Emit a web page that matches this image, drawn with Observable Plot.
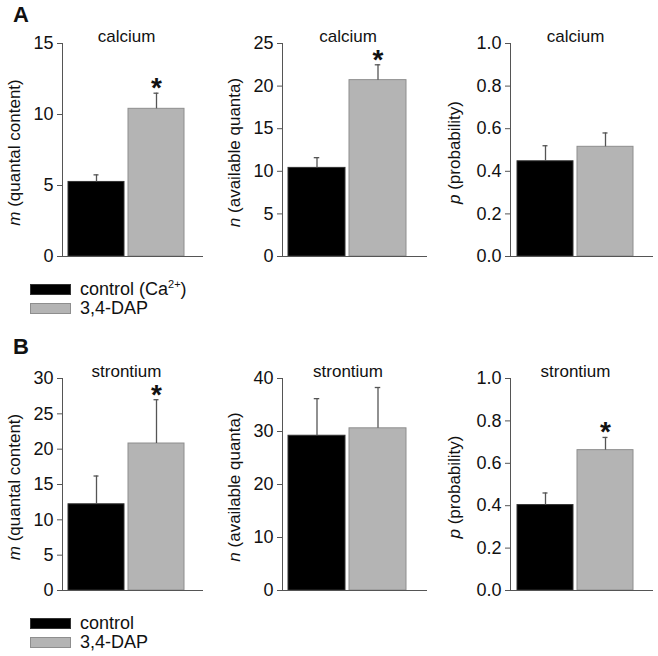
<!DOCTYPE html>
<html>
<head>
<meta charset="utf-8">
<script src="https://cdn.jsdelivr.net/npm/d3@7"></script>
<script src="https://cdn.jsdelivr.net/npm/@observablehq/plot@0.6"></script>
<style>
  html, body { margin: 0; padding: 0; background: #fff; }
  #chart { position: relative; width: 658px; height: 656px; font-family: Arial, "Liberation Sans", sans-serif; color: #111; }
  .panel { position: absolute; }
  .tag { position: absolute; font-weight: bold; font-size: 22px; line-height: 22px; }
  .leg { position: absolute; left: 30px; font-size: 18px; }
  .row { display: flex; align-items: center; height: 18px; }
  .sw { width: 41px; height: 11px; box-sizing: border-box; margin-right: 9px; }
  sup { font-size: 11px; line-height: 0; vertical-align: 7px; }
</style>
</head>
<body>
<div id="chart"></div>
<script>
// ---------------- data ----------------
const groups = ["control", "3,4-DAP"];
const calciumM = [5.25, 10.4];
const calciumMErr = [0.5, 1.1];
const calciumN = [10.4, 20.7];
const calciumNErr = [1.2, 1.8];
const calciumP = [0.447, 0.515];
const calciumPErr = [0.073, 0.065];
const strontiumM = [12.2, 20.8];
const strontiumMErr = [4.0, 6.2];
const strontiumN = [29.2, 30.6];
const strontiumNErr = [7.0, 7.7];
const strontiumP = [0.403, 0.662];
const strontiumPErr = [0.057, 0.06];
const calciumSig = [[false, true], [false, true], [false, false]];
const strontiumSig = [[false, true], [false, false], [false, true]];
const ticksCaM = [0, 5, 10, 15];
const ticksCaN = [0, 5, 10, 15, 20, 25];
const ticksP = [0, 0.2, 0.4, 0.6, 0.8, 1.0];
const ticksSrM = [0, 5, 10, 15, 20, 25, 30];
const ticksSrN = [0, 10, 20, 30, 40];
const labelM = ["m", " (quantal content)"];
const labelN = ["n", " (available quanta)"];
const labelP = ["p", " (probability)"];
const legendA = ["control (Ca", "2+", ")", "3,4-DAP"];
const legendB = ["control", "3,4-DAP"];

// ---------------- layout / style ----------------
const FONT = 'Arial, "Liberation Sans", sans-serif';
const fills = ["#000000", "#b4b4b4"];
const strokes = ["#333333", "#8e8e8e"];
const axisColor = "#555";
const cols = [
  {left: 0, width: 220, axisX: 62, axisEnd: 203, barL: 67, barR: 185},
  {left: 220, width: 220, axisX: 282, axisEnd: 427, barL: 288, barR: 407},
  {left: 440, width: 218, axisX: 510, axisEnd: 653, barL: 516, barR: 634}
];
const rows = [
  {top: 0, height: 270, frameTop: 43, frameBottom: 256},
  {top: 330, height: 270, frameTop: 378, frameBottom: 590}
];

const chart = document.getElementById("chart");

function panel(row, col, values, errs, sig, ticks, title, label, fmt) {
  const R = rows[row], C = cols[col];
  const data = groups.map((g, i) => ({g, v: values[i], e: errs[i], hi: values[i] + errs[i], sig: sig[i], i}));
  const marginLeft = C.axisX - C.left;
  const marginRight = C.left + C.width - C.axisEnd;
  const bw = (C.barR - C.barL) / (2 - 0.065) * (1 - 0.065);
  const frameMid = (C.axisX + C.axisEnd) / 2;
  const barMid = (C.barL + C.barR) / 2;
  const svg = Plot.plot({
    width: C.width,
    height: R.height,
    marginTop: R.frameTop - R.top,
    marginBottom: R.top + R.height - R.frameBottom,
    marginLeft, marginRight,
    style: {fontFamily: FONT, fontSize: "18px", color: "#111", background: "transparent"},
    x: {type: "band", domain: groups, range: [C.barL - C.left, C.barR - C.left], paddingInner: 0.065, paddingOuter: 0, axis: null},
    y: {domain: [0, ticks[ticks.length - 1]]},
    marks: [
      Plot.barY(data, {x: "g", y: "v", fill: d => fills[d.i], stroke: d => strokes[d.i], strokeWidth: 1}),
      Plot.ruleX(data, {x: "g", y1: "v", y2: "hi", stroke: "#555", strokeWidth: 1.3}),
      Plot.tickY(data, {x: "g", y: "hi", stroke: "#555", strokeWidth: 1.3, insetLeft: (bw - 6) / 2, insetRight: (bw - 6) / 2}),
      Plot.text(data.filter(d => d.sig), {x: "g", y: "hi", text: () => "*", fontSize: 28, fontWeight: "bold", lineAnchor: "top", dy: -16, fill: "#111"}),
      Plot.frame({anchor: "left", stroke: axisColor}),
      Plot.ruleY([0], {stroke: axisColor}),
      Plot.axisY(ticks, {tickSize: 5, tickPadding: 4, tickFormat: fmt, label: null, stroke: axisColor, fontSize: 18}),
      Plot.text([title], {frameAnchor: "top", lineAnchor: "middle", dy: -7, dx: barMid - frameMid, fontSize: 17, fill: "#111"})
    ]
  });
  const s = d3.select(svg);
  const t = s.append("text")
    .attr("transform", `translate(20,${(R.frameTop + R.frameBottom) / 2 - R.top + 3}) rotate(-90)`)
    .attr("text-anchor", "middle")
    .attr("font-size", 17)
    .attr("fill", "#111")
    .style("font-family", FONT);
  t.append("tspan").attr("font-style", "italic").text(label[0]);
  t.append("tspan").text(label[1]);
  svg.classList.add("panel");
  svg.style.left = C.left + "px";
  svg.style.top = R.top + "px";
  chart.appendChild(svg);
}

const f0 = d3.format("d"), f1 = d3.format(".1f");
panel(0, 0, calciumM, calciumMErr, calciumSig[0], ticksCaM, "calcium", labelM, f0);
panel(0, 1, calciumN, calciumNErr, calciumSig[1], ticksCaN, "calcium", labelN, f0);
panel(0, 2, calciumP, calciumPErr, calciumSig[2], ticksP, "calcium", labelP, f1);
panel(1, 0, strontiumM, strontiumMErr, strontiumSig[0], ticksSrM, "strontium", labelM, f0);
panel(1, 1, strontiumN, strontiumNErr, strontiumSig[1], ticksSrN, "strontium", labelN, f0);
panel(1, 2, strontiumP, strontiumPErr, strontiumSig[2], ticksP, "strontium", labelP, f1);

// panel tags
function tag(text, left, top) {
  const d = document.createElement("div");
  d.className = "tag"; d.textContent = text;
  d.style.left = left + "px"; d.style.top = top + "px";
  chart.appendChild(d);
}
tag("A", 13, 4);
tag("B", 13, 336);

// legends
function legend(top, gap, items) {
  const box = document.createElement("div");
  box.className = "leg"; box.style.top = top + "px";
  items.forEach((html, i) => {
    const r = document.createElement("div");
    r.className = "row";
    if (i > 0) r.style.marginTop = gap + "px";
    const sw = document.createElement("div");
    sw.className = "sw"; sw.style.background = fills[i]; sw.style.border = "1px solid " + strokes[i];
    const tx = document.createElement("span");
    tx.innerHTML = html;
    r.appendChild(sw); r.appendChild(tx);
    box.appendChild(r);
  });
  chart.appendChild(box);
}
legend(280, 1, [`${legendA[0]}<sup>${legendA[1]}</sup>${legendA[2]}`, legendA[3]]);
legend(614, 1, legendB);
</script>
</body>
</html>
